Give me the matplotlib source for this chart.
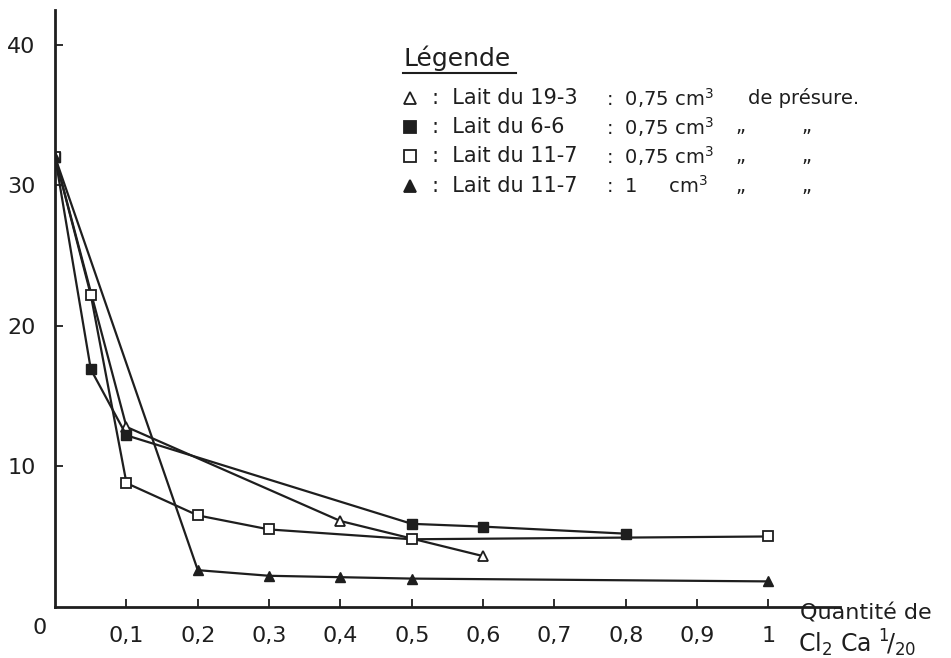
import matplotlib.pyplot as plt
from matplotlib.lines import Line2D

# lait du 19-3 : 0,75 cm3 (triangle ouvert)
x_19_3 = [0, 0.1, 0.4, 0.6]
y_19_3 = [32, 12.8, 6.1, 3.6]

# lait du 6-6 : 0,75 cm3 (carre plein)
x_6_6 = [0, 0.05, 0.1, 0.5, 0.6, 0.8]
y_6_6 = [32, 16.9, 12.2, 5.9, 5.7, 5.2]

# lait du 11-7 : 0,75 cm3 (carre ouvert)
x_11_7 = [0, 0.05, 0.1, 0.2, 0.3, 0.5, 1.0]
y_11_7 = [32, 22.2, 8.8, 6.5, 5.5, 4.8, 5.0]

# lait du 11-7 : 1 cm3 (triangle plein)
x_11_7b = [0, 0.2, 0.3, 0.4, 0.5, 1.0]
y_11_7b = [32, 2.6, 2.2, 2.1, 2.0, 1.8]

x_ticks = [0.1, 0.2, 0.3, 0.4, 0.5, 0.6, 0.7, 0.8, 0.9, 1.0]
x_tick_labels = ["0,1", "0,2", "0,3", "0,4", "0,5", "0,6", "0,7", "0,8", "0,9", "1"]
y_ticks = [10, 20, 30, 40]

ink = "#1e1e1e"

fig = plt.figure(figsize=(9.51, 6.58), dpi=100)
ax = fig.add_axes([0.058, 0.078, 0.825, 0.907])

ax.plot(x_19_3, y_19_3, color=ink, lw=1.6, marker="^", mfc="white", mec=ink, ms=7, mew=1.3)
ax.plot(x_6_6, y_6_6, color=ink, lw=1.6, marker="s", mfc=ink, mec=ink, ms=6.5)
ax.plot(x_11_7, y_11_7, color=ink, lw=1.6, marker="s", mfc="white", mec=ink, ms=6.5, mew=1.3)
ax.plot(x_11_7b, y_11_7b, color=ink, lw=1.6, marker="^", mfc=ink, mec=ink, ms=7)

ax.set_xlim(0, 1.1)
ax.set_ylim(0, 42.5)
for s in ["top", "right"]:
    ax.spines[s].set_visible(False)
for s in ["left", "bottom"]:
    ax.spines[s].set_linewidth(2)
    ax.spines[s].set_color(ink)

ax.set_xticks(x_ticks)
ax.set_xticklabels(x_tick_labels)
ax.set_yticks(y_ticks)
ax.tick_params(axis="both", direction="in", length=6, width=1.3, color=ink,
               labelsize=16, labelcolor=ink)
ax.tick_params(axis="x", pad=14)
ax.tick_params(axis="y", pad=14)

fig.text(40 / 951, 1 - 628 / 658, "0", fontsize=16, color=ink, ha="center", va="center")

# titre de l'axe x
fig.text(800 / 951, 1 - 613 / 658, "Quantité de", fontsize=16, color=ink, ha="left", va="center")
fig.text(798 / 951, 1 - 643 / 658, r"Cl$_2$ Ca $^1\!/_{20}$", fontsize=17, color=ink,
         ha="left", va="center")

# legende
fig.text(403 / 951, 1 - 58 / 658, "Légende", fontsize=18, color=ink, ha="left", va="center")
fig.add_artist(Line2D([403 / 951, 516 / 951], [1 - 73 / 658, 1 - 73 / 658], color=ink, lw=1.5))

rows = [
    ("^", "white", "Lait du 19-3", r"0,75 cm$^3$"),
    ("s", ink, "Lait du 6-6", r"0,75 cm$^3$"),
    ("s", "white", "Lait du 11-7", r"0,75 cm$^3$"),
    ("^", ink, "Lait du 11-7", r"1     cm$^3$"),
]
row_y = [98, 127, 156, 186]
for i, ((mk, fc, lait, dose), py) in enumerate(zip(rows, row_y)):
    yy = 1 - py / 658
    fig.add_artist(Line2D([410 / 951], [yy], marker=mk, mfc=fc, mec=ink, ms=8, mew=1.3, ls="none"))
    fig.text(432 / 951, yy, ":  " + lait, fontsize=15, color=ink, ha="left", va="center")
    fig.text(606 / 951, yy, ":  " + dose, fontsize=14, color=ink, ha="left", va="center")
    if i == 0:
        fig.text(748 / 951, yy, "de présure.", fontsize=14, color=ink, ha="left", va="center")
    else:
        fig.text(740 / 951, yy, "„", fontsize=14, color=ink, ha="center", va="center")
        fig.text(806 / 951, yy, "„", fontsize=14, color=ink, ha="center", va="center")

fig.savefig("out.png", dpi=100)
